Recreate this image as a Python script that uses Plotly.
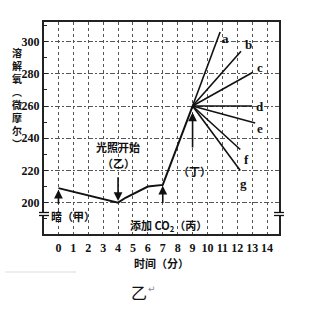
import plotly.graph_objects as go

# ---- data ----
main_x = [0, 4, 4.5, 5, 5.5, 6, 7, 9]
main_y = [209, 200, 203, 205.5, 208, 210, 211, 260]
pivot = (9, 260)
ray_names = ["a", "b", "c", "d", "e", "f", "g"]
ray_end_x = [10.85, 12.25, 13.05, 13.0, 13.2, 12.2, 12.2]
ray_end_y = [306, 294, 281, 260, 249.5, 233, 220]
label_x = [11.2, 12.75, 13.5, 13.5, 13.5, 12.65, 12.45]
label_y = [302, 298, 284, 260, 246, 227, 212]
x_ticks = list(range(0, 15))
y_ticks = [200, 220, 240, 260, 280, 300]
y_title_chars = ["溶", "解", "氧", "︵", "微", "摩", "尔", "︶"]

W, H = 335, 311
L, R, T, B = 44, 279, 22, 234

def px(xp):
    return (xp - L) / (R - L)

def py(yp):
    return (B - yp) / (B - T)

fig = go.Figure()
fig.add_trace(go.Scatter(x=main_x, y=main_y, mode="lines",
                         line=dict(color="#111", width=2), hoverinfo="skip"))
for xe, ye in zip(ray_end_x, ray_end_y):
    fig.add_trace(go.Scatter(x=[pivot[0], xe], y=[pivot[1], ye], mode="lines",
                             line=dict(color="#111", width=1.6), hoverinfo="skip"))

serif = "Liberation Serif"
cjk = "Noto Sans CJK SC"
C = dict(xanchor="center", yanchor="middle", showarrow=False)
ann = []
for n, lx, ly in zip(ray_names, label_x, label_y):
    ann.append(dict(x=lx, y=ly, text=n, **C,
                    font=dict(family=serif, size=13, color="#111", weight="bold")))

# arrows
arrows = [
    (0, 193, 0, 208),
    (4, 222, 4, 201),
    (7, 193.5, 7, 210.5),
    (9, 228, 9, 256),
]
for tx, ty, hx, hy in arrows:
    ann.append(dict(x=hx, y=hy, ax=tx, ay=ty, axref="x", ayref="y",
                    xref="x", yref="y", text=" ", showarrow=True,
                    arrowhead=2, arrowsize=1.1, arrowwidth=1.6, arrowcolor="#111"))

tfont = dict(family=cjk, size=11, color="#111", weight="bold")
ann += [
    dict(x=0.97, y=191.5, text="暗（甲）", font=tfont, **C),
    dict(x=4.0, y=234.5, text="光照开始", font=tfont, **C),
    dict(x=4.0, y=224.5, text="（乙）", font=tfont, **C),
    dict(x=7.4, y=186, text="添加 CO<sub>2</sub>（丙）", font=tfont, **C),
    dict(x=9.15, y=219.5, text="（丁）", font=tfont, **C),
]
ann.append(dict(x=px(17), y=py(98), xref="paper", yref="paper",
                text="<br>".join(y_title_chars), **C,
                font=dict(family=cjk, size=10, color="#111", weight="bold")))
ann.append(dict(x=px(161), y=py(263), xref="paper", yref="paper", text="时间（分）",
                font=tfont, **C))
ann.append(dict(x=px(139), y=py(292), xref="paper", yref="paper", text="乙",
                font=dict(family=cjk, size=16, color="#111"), **C))
ann.append(dict(x=px(152), y=py(289), xref="paper", yref="paper", text="↵",
                font=dict(family="DejaVu Sans", size=9, color="#888"), **C))

shapes = []
# axis breaks
for xa, xb in [(px(39), px(49)), (px(274), px(284))]:
    shapes.append(dict(type="rect", xref="paper", yref="paper", x0=xa, x1=xb,
                       y0=py(215.5), y1=py(212.5), fillcolor="white", line=dict(width=0), layer="above"))
    for yy in (212.5, 215.5):
        shapes.append(dict(type="line", xref="paper", yref="paper", x0=xa, x1=xb,
                           y0=py(yy), y1=py(yy), line=dict(color="#111", width=1.3), layer="above"))
shapes.append(dict(type="line", xref="paper", yref="paper", x0=px(5), x1=px(76),
                   y0=py(272), y1=py(272), line=dict(color="#ddd", width=1)))

fig.update_layout(
    width=W, height=H,
    margin=dict(l=L, r=W - R, t=T, b=H - B),
    paper_bgcolor="white", plot_bgcolor="white",
    showlegend=False,
    annotations=ann, shapes=shapes,
    xaxis=dict(range=[-0.97, 14.8], tickvals=x_ticks, ticktext=[str(v) for v in x_ticks],
               showgrid=True, gridcolor="#555", gridwidth=1, griddash="3px,3px",
               showline=True, linecolor="#222", linewidth=2, mirror=True,
               zeroline=False, ticks="", ticklabelstandoff=2,
               tickfont=dict(family=serif, size=12, color="#111", weight="bold")),
    yaxis=dict(range=[180.5, 312.2], tickvals=y_ticks,
               showgrid=True, gridcolor="#555", gridwidth=1, griddash="5px,2px,2px,2px",
               showline=True, linecolor="#222", linewidth=2, mirror=True,
               zeroline=False, ticks="inside", ticklen=4, tickcolor="#222",
               minor=dict(tickvals=[190, 210, 230, 250, 270, 290, 310], ticks="inside",
                          ticklen=3, tickcolor="#222", showgrid=False),
               tickfont=dict(family=serif, size=12, color="#111", weight="bold")),
)

fig.write_html("out.html")
